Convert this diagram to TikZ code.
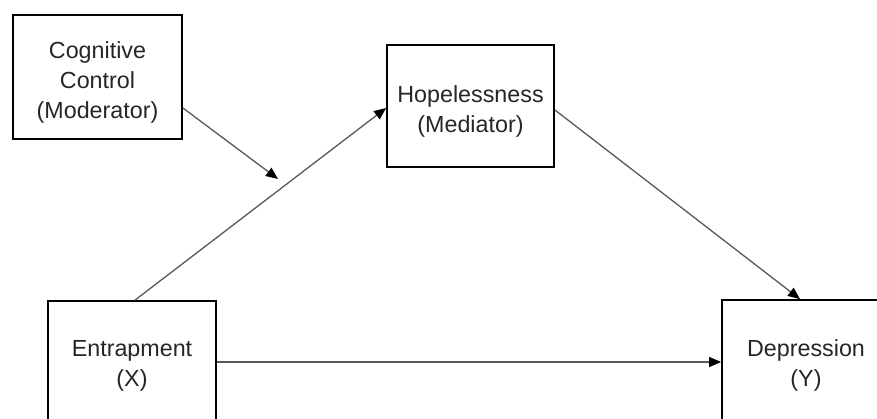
\documentclass[tikz,border=0pt]{standalone}
\usepackage{fontspec}
\setmainfont{Liberation Sans}
\usetikzlibrary{arrows.meta}
\tikzset{
  varbox/.style={draw=black, line width=1.8pt, align=center, inner sep=0pt,
    font=\fontsize{23.3pt}{30pt}\selectfont, text=black!85},
  link/.style={draw=black!65, line width=1.3pt, -{Triangle[length=12pt,width=10pt,color=black]}}
}
\newcommand{\dropstrut}{\rule{0pt}{27pt}}
\begin{document}
\begin{tikzpicture}[x=1pt,y=-1pt]
\useasboundingbox (0,0) rectangle (877,419);
\clip (0,0) rectangle (877,419);
\fill[white] (0,0) rectangle (877,419);
\node[varbox, minimum width=169pt, minimum height=124pt] (cog) at (97.5,77) {\dropstrut Cognitive\\Control\\(Moderator)};
\node[varbox, minimum width=167pt, minimum height=122pt] (hop) at (470.5,106) {\dropstrut Hopelessness\\(Mediator)};
\node[varbox, minimum width=168pt, minimum height=124pt] (ent) at (132,363) {\rule{0pt}{21pt}Entrapment\\(X)};
\node[varbox, minimum width=168pt, minimum height=128pt] (dep) at (806,364) {\rule{0pt}{19pt}Depression\\(Y)};
\coordinate (mod) at (278,179);
\draw[link] ([xshift=3pt]ent.north) -- ([yshift=-2pt]hop.west);
\draw[link] ([yshift=-4pt]hop.east) -- ([xshift=-6pt]dep.north);
\draw[link] ([yshift=1pt]ent.east) -- ([yshift=1pt]ent.east -| dep.west);
\draw[link] ([yshift=-31pt]cog.east) -- (mod);
\end{tikzpicture}
\end{document}
